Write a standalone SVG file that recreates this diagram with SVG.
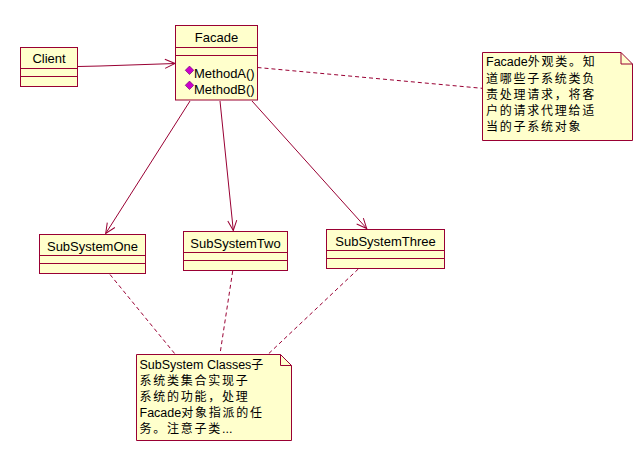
<svg xmlns="http://www.w3.org/2000/svg" width="637" height="457" viewBox="0 0 637 457">
<style>
.box{fill:#ffffcc;stroke:#990033;stroke-width:1}
.ln{fill:none;stroke:#990033;stroke-width:1}
.dash{fill:none;stroke:#990033;stroke-width:1;stroke-dasharray:4 3}
.t{font-family:"Liberation Sans",Arial,sans-serif;font-size:13px;fill:#000}
.n{font-family:"Liberation Sans","Noto Sans CJK SC",sans-serif;font-size:12.5px;fill:#000}
.c{font-family:"Noto Sans CJK SC","Liberation Sans",sans-serif;font-size:12px;letter-spacing:1.75px}
.dm{fill:#cc00cc;stroke:#660066;stroke-width:0.6}
</style>
<defs>
<marker id="arr" markerUnits="userSpaceOnUse" viewBox="-11 -6 12 12" refX="0" refY="0" markerWidth="12" markerHeight="12" orient="auto">
<path d="M-10,-4.5 L0,0 L-10,4.5" fill="none" stroke="#990033" stroke-width="1"/>
</marker>
</defs>
<rect width="637" height="457" fill="#fff"/>
<g id="connectors">
<polyline class="ln" points="78,66.5 100,66 175,63.5" marker-end="url(#arr)"/>
<line class="ln" x1="190" y1="101" x2="105.7" y2="233.5" marker-end="url(#arr)"/>
<line class="ln" x1="220" y1="101" x2="233.3" y2="230.5" marker-end="url(#arr)"/>
<line class="ln" x1="252" y1="101" x2="366.7" y2="228.5" marker-end="url(#arr)"/>
<line class="dash" x1="257.5" y1="67.5" x2="482" y2="88.3"/>
<line class="dash" x1="110" y1="274.5" x2="175" y2="354"/>
<line class="dash" x1="232.7" y1="271" x2="220" y2="354"/>
<line class="dash" x1="358.3" y1="269" x2="268.3" y2="354"/>
</g>
<g id="client">
<rect class="box" x="20.5" y="47.5" width="57" height="39"/>
<line class="ln" x1="20.5" y1="68.5" x2="77.5" y2="68.5"/>
<line class="ln" x1="20.5" y1="76.5" x2="77.5" y2="76.5"/>
<text class="t" x="49" y="63" text-anchor="middle">Client</text>
</g>
<g id="facade">
<rect class="box" x="175.5" y="25.5" width="82" height="74.5"/>
<line class="ln" x1="175.5" y1="47.5" x2="257.5" y2="47.5"/>
<line class="ln" x1="175.5" y1="55.5" x2="257.5" y2="55.5"/>
<text class="t" x="216.5" y="42" text-anchor="middle">Facade</text>
<rect class="dm" x="-3" y="-3" width="6" height="6" transform="translate(189.5,70.3) rotate(45)"/>
<rect class="dm" x="-3" y="-3" width="6" height="6" transform="translate(189.5,85.3) rotate(45)"/>
<text class="t" x="194" y="78">MethodA()</text>
<text class="t" x="194" y="94">MethodB()</text>
</g>
<g id="subsystemone">
<rect class="box" x="39.5" y="234.5" width="106" height="39"/>
<line class="ln" x1="39.5" y1="255.5" x2="145.5" y2="255.5"/>
<line class="ln" x1="39.5" y1="263.5" x2="145.5" y2="263.5"/>
<text class="t" x="92.5" y="250.5" text-anchor="middle">SubSystemOne</text>
</g>
<g id="subsystemtwo">
<rect class="box" x="183.5" y="231.5" width="104" height="39"/>
<line class="ln" x1="183.5" y1="252.5" x2="287.5" y2="252.5"/>
<line class="ln" x1="183.5" y1="260.5" x2="287.5" y2="260.5"/>
<text class="t" x="235.5" y="247.5" text-anchor="middle">SubSystemTwo</text>
</g>
<g id="subsystemthree">
<rect class="box" x="326.5" y="229.5" width="118" height="39"/>
<line class="ln" x1="326.5" y1="250.5" x2="444.5" y2="250.5"/>
<line class="ln" x1="326.5" y1="258.5" x2="444.5" y2="258.5"/>
<text class="t" x="385.5" y="246" text-anchor="middle">SubSystemThree</text>
</g>
<g id="note-facade">
<path class="box" d="M482.5,52.5 H621 L632.5,64 V140.5 H482.5 Z"/>
<path class="ln" d="M621,52.5 V64 H632.5"/>
<text class="n" x="486" y="66">Facade<tspan class="c">外观类。知</tspan></text>
<text class="n" x="486" y="82.5"><tspan class="c">道哪些子系统类负</tspan></text>
<text class="n" x="486" y="98.5"><tspan class="c">责处理请求，将客</tspan></text>
<text class="n" x="486" y="114.5"><tspan class="c">户的请求代理给适</tspan></text>
<text class="n" x="486" y="131"><tspan class="c">当的子系统对象</tspan></text>
</g>
<g id="note-subsystem">
<path class="box" d="M136.5,354.5 H280.5 L291.5,365.5 V440.5 H136.5 Z"/>
<path class="ln" d="M280.5,354.5 V365.5 H291.5"/>
<text class="n" x="139.5" y="368.5">SubSystem Classes<tspan class="c">子</tspan></text>
<text class="n" x="139.5" y="385"><tspan class="c">系统类集合实现子</tspan></text>
<text class="n" x="139.5" y="401"><tspan class="c">系统的功能，处理</tspan></text>
<text class="n" x="139.5" y="417">Facade<tspan class="c">对象指派的任</tspan></text>
<text class="n" x="139.5" y="433"><tspan class="c">务。注意子类</tspan>...</text>
</g>
</svg>
